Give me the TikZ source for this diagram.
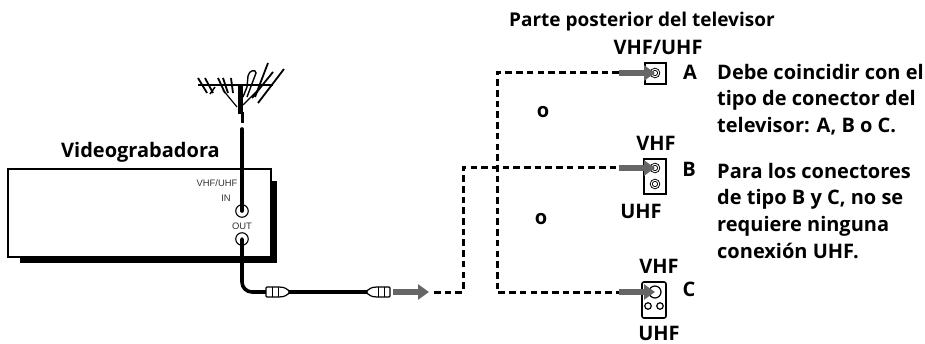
\documentclass[tikz,border=0pt]{standalone}
\usepackage{fontspec}
\setmainfont{Open Sans}
\newfontfamily\smallfont{Liberation Sans}
\usetikzlibrary{arrows.meta}

\tikzset{
  lbl/.style={inner sep=0pt,font=\bfseries\fontsize{20}{26.6}\selectfont,text=black},
  tiny/.style={inner sep=0pt,font=\smallfont\fontsize{9.4}{10}\selectfont,text=black!80},
  cable/.style={line width=3.6pt,line cap=round},
  dashline/.style={line width=3pt,dash pattern=on 6.6pt off 4.1pt},
  grayarrow/.style={line width=6.5pt,draw=black!60,-{Triangle[length=11pt,width=15pt,fill=black!60]}},
  port/.style={shape=rectangle,draw,line width=1.6pt,inner sep=0pt},
  jack/.style={shape=circle,draw,line width=.9pt,double,double distance=1pt,minimum size=7.5pt,inner sep=0pt},
  smalljack/.style={shape=circle,draw,line width=1.2pt,fill=white,minimum size=6.5pt,inner sep=0pt},
  plug/.pic={
    \draw[line width=1.2pt,fill=white,rounded corners=1pt] (0,-5) -- (13,-5) -- (18,-4.5) -- (23,-1.5) -- (23,1.5) -- (18,4.5) -- (13,5) -- (0,5) -- cycle;
    \draw[line width=1pt] (6,-5) -- (6,5);
    \draw[line width=1pt] (12,-5) -- (12,5);
  }
}

\begin{document}
\begin{tikzpicture}[x=1pt,y=-1pt]
\useasboundingbox (0,0) rectangle (925,344);

% videograbadora
\fill (271,181) rectangle (277,263);
\fill (20,257) rectangle (277,263);
\path (139.5,213) node (VCR) [shape=rectangle, minimum width=263pt, minimum height=88pt, line width=1.8pt, draw, fill=white] {};
\path (61,158) node (VCRlabel) [lbl,anchor=base west] {Videograbadora};
\path (217,183) node (VHFUHFin) [tiny] {VHF/UHF};
\path (226,198) node (INlabel) [tiny] {IN};
\path (242,226) node (OUTlabel) [tiny] {OUT};
\path (242,211) node (IN) [shape=circle, draw, line width=1.1pt, minimum size=12.5pt, inner sep=0pt] {};
\path (242,239) node (OUT) [shape=circle, draw, line width=1.1pt, minimum size=12.5pt, inner sep=0pt] {};

% antena
\draw[line width=2pt] (198,85) -- (273,85);
\foreach \i/\j in {198/207,205/213,218/225,223/228,231/233} \draw[line width=1.8pt] (\i,78) -- (\j,93);
\draw[line width=1.5pt] (215,87) -- (210,94);
\draw[line width=1.8pt] (284,69) -- (258,103);
\draw[line width=1.8pt] (273,72) -- (252,98);
\draw[line width=1.8pt] (268,63) -- (255,97);
\draw[line width=1.4pt] (243,97) -- (247,87) -- (248,76) .. controls (249,70) and (256,69) .. (256,73) -- (247,97);
\draw[line width=5pt] (240,84) -- (240,114);
\draw[line width=1.2pt] (223,90) -- (237,107);
\draw[line width=1.2pt] (260,88) -- (243,105);
\coordinate (ANTtop) at (242,112);
\coordinate (ANTgap) at (242,123);
\coordinate (ANTbot) at (242,129);
\draw[line width=3pt] (ANTtop) -- (ANTgap);
\draw[cable] (ANTbot) -- (IN.center);

% cable
\coordinate (plugLin) at (266,292);
\coordinate (plugLout) at (289,292);
\coordinate (plugRin) at (367,292);
\draw[cable,rounded corners=10pt] (OUT.center) -- (242,292) -- (plugLin);
\draw[cable] (plugLout) -- (plugRin);
\path (266,292) pic (plugL) {plug};
\path (390,292) pic[xscale=-1] (plugR) {plug};

% parte posterior
\path (509,27) node (TVlabel) [lbl,anchor=base west,font=\bfseries\fontsize{19}{24}\selectfont] {Parte posterior del televisor};
\path (658,55) node (Alabel) [lbl,anchor=base] {VHF/UHF};
\path (656,151) node (Blabel) [lbl,anchor=base] {VHF};
\path (641,219) node (Blabel2) [lbl,anchor=base] {UHF};
\path (659,274) node (Clabel) [lbl,anchor=base] {VHF};
\path (659,340) node (Clabel2) [lbl,anchor=base] {UHF};
\path (690,80) node (LetA) [lbl,anchor=base] {A};
\path (689,177) node (LetB) [lbl,anchor=base] {B};
\path (689,297) node (LetC) [lbl,anchor=base] {C};
\path (543,118) node (O1) [lbl,anchor=base] {o};
\path (541,225) node (O2) [lbl,anchor=base] {o};
\path (717,64) node (Note1) [lbl,anchor=north west,align=left] {Debe coincidir con el\\tipo de conector del\\televisor: A, B o C.};
\path (717,163) node (Note2) [lbl,anchor=north west,align=left] {Para los conectores\\de tipo B y C, no se\\requiere ninguna\\conexión UHF.};

\path (655.5,73.5) node (portA) [port, minimum width=21pt, minimum height=21pt] {};
\path (655,176.5) node (portB) [port, minimum width=22pt, minimum height=35pt] {};
\path (654,300) node (portC) [port, rounded corners=2pt, minimum width=24pt, minimum height=36pt] {};

\path (655,73) node (jackA) [jack] {};
\path (655,168) node (jackB1) [jack] {};
\path (655,184) node (jackB2) [jack] {};
\path (655,292) node (jackC1) [shape=circle, draw, line width=1.2pt, minimum size=12pt, inner sep=0pt] {};
\path (648,306) node (jackC2) [smalljack] {};
\path (660,306) node (jackC3) [smalljack] {};

% conexiones
\coordinate (start) at (434,292);
\coordinate (corner1) at (463,292);
\coordinate (corner2) at (463,168);
\coordinate (endA) at (619,73);
\coordinate (endB) at (619,168);
\coordinate (endC) at (619,292);
\coordinate (corner3) at (497,73);
\coordinate (corner4) at (497,292);
\draw[dashline] (start) -- (corner1) -- (corner2) -- (endB);
\draw[dashline] (endA) -- (corner3) -- (corner4) -- (endC);

\coordinate (arrowtail) at (393,292);
\coordinate (arrowhead) at (429,292);
\draw[grayarrow] (arrowtail) -- (arrowhead);
\draw[grayarrow] (endA) -- (jackA.center);
\draw[grayarrow] (endB) -- (jackB1.center);
\draw[grayarrow] (endC) -- (jackC1.center);

\end{tikzpicture}
\end{document}
